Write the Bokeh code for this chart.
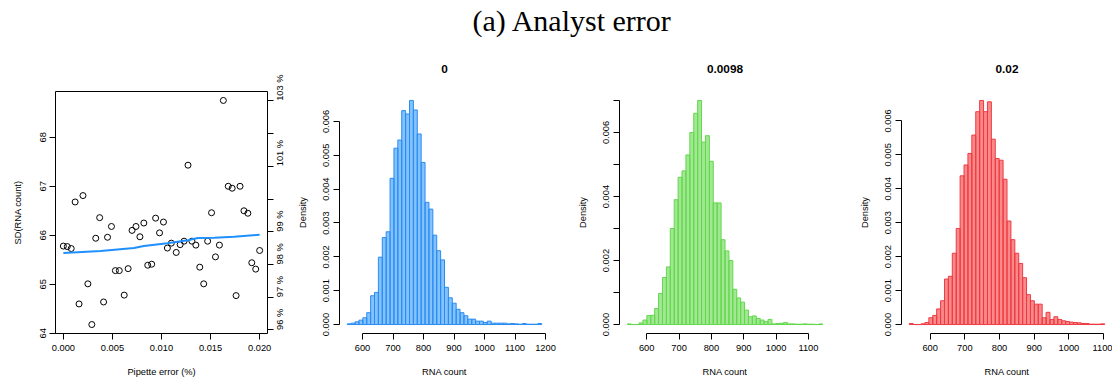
import math
from bokeh.plotting import figure
from bokeh.layouts import row, column
from bokeh.models import Range1d, LinearAxis, FixedTicker, PrintfTickFormatter
from bokeh.core.properties import value
from bokeh.embed import file_html
from bokeh.resources import INLINE

# ---------------- data ----------------
main_title = "(a) Analyst error"

pipette_error = [0.0000, 0.0004, 0.0008, 0.0012, 0.0016, 0.0020, 0.0025, 0.0029, 0.0033, 0.0037,
                 0.0041, 0.0045, 0.0049, 0.0053, 0.0057, 0.0062, 0.0066, 0.0070, 0.0074, 0.0078,
                 0.0082, 0.0086, 0.0090, 0.0094, 0.0098, 0.0102, 0.0106, 0.0110, 0.0115, 0.0119,
                 0.0123, 0.0127, 0.0131, 0.0135, 0.0139, 0.0143, 0.0147, 0.0151, 0.0155, 0.0159,
                 0.0163, 0.0168, 0.0172, 0.0176, 0.0180, 0.0184, 0.0188, 0.0192, 0.0196, 0.0200]
sd_rna = [65.78, 65.77, 65.73, 66.68, 64.60, 66.81, 65.01, 64.18, 65.94, 66.36,
          64.64, 65.96, 66.18, 65.28, 65.28, 64.78, 65.32, 66.10, 66.18, 65.97,
          66.25, 65.39, 65.41, 66.35, 66.05, 66.27, 65.74, 65.84, 65.65, 65.81,
          65.88, 67.43, 65.88, 65.80, 65.35, 65.01, 65.88, 66.46, 65.56, 65.80,
          68.75, 67.00, 66.96, 64.77, 67.00, 66.50, 66.45, 65.44, 65.31, 65.69]
loess_error = [0.0000, 0.0038, 0.0072, 0.0082, 0.0106, 0.0127, 0.0137, 0.0154, 0.0174, 0.0200]
loess_sd = [65.64, 65.68, 65.74, 65.78, 65.84, 65.90, 65.945, 65.95, 65.97, 66.01]
reference_sd = 66.74  # SD corresponding to 100 %

sd_ticks = [64, 65, 66, 67, 68]
pct_ticks_labelled = [96, 97, 98, 99, 101, 103]
pct_ticks_unlabelled = [100, 102]
error_ticks = [0.0, 0.005, 0.010, 0.015, 0.020]

hist_titles = ["0", "0.0098", "0.02"]

blue_start, blue_width = 550.0, 12.75
blue_density = [0.00002, 0.00004, 0.00008, 0.00013, 0.00020, 0.00035, 0.00085, 0.00095, 0.00199, 0.00257,
                0.00274, 0.00432, 0.00521, 0.00545, 0.00632, 0.00622, 0.00662, 0.00634, 0.00563, 0.00479,
                0.00361, 0.00341, 0.00264, 0.00218, 0.00191, 0.00110, 0.00079, 0.00063, 0.00045, 0.00035,
                0.00026, 0.00016, 0.00016, 0.00010, 0.00010, 0.00006, 0.00010, 0.00004, 0.00004, 0.00004,
                0.00004, 0.00002, 0.00003, 0.00002, 0.00001, 0.00003, 0.00001, 0.00001, 0.00001, 0.00003]

green_start, green_width = 540.0, 12.08
green_density = [0.00002, 0.00000, 0.00000, 0.00005, 0.00014, 0.00028, 0.00029, 0.00050, 0.00097, 0.00147,
                 0.00180, 0.00300, 0.00390, 0.00460, 0.00480, 0.00530, 0.00600, 0.00660, 0.00700, 0.00570,
                 0.00590, 0.00510, 0.00380, 0.00380, 0.00265, 0.00230, 0.00200, 0.00110, 0.00083, 0.00070,
                 0.00045, 0.00024, 0.00027, 0.00019, 0.00014, 0.00009, 0.00016, 0.00002, 0.00003, 0.00004,
                 0.00006, 0.00002, 0.00002, 0.00001, 0.00001, 0.00002, 0.00001, 0.00001, 0.00000, 0.00002]

red_start, red_width = 540.0, 11.26
red_density = [0.00003, 0.00000, 0.00000, 0.00002, 0.00006, 0.00020, 0.00027, 0.00046, 0.00070, 0.00134,
               0.00142, 0.00210, 0.00283, 0.00438, 0.00470, 0.00504, 0.00558, 0.00627, 0.00660, 0.00627,
               0.00656, 0.00546, 0.00489, 0.00484, 0.00428, 0.00305, 0.00250, 0.00210, 0.00180, 0.00138,
               0.00088, 0.00070, 0.00060, 0.00060, 0.00020, 0.00036, 0.00015, 0.00023, 0.00015, 0.00011,
               0.00009, 0.00007, 0.00006, 0.00005, 0.00003, 0.00003, 0.00001, 0.00001, 0.00001, 0.00002]

count_ticks_blue = [600, 700, 800, 900, 1000, 1100, 1200]
count_ticks_other = [600, 700, 800, 900, 1000, 1100]
density_ticks = [0.000, 0.001, 0.002, 0.003, 0.004, 0.005, 0.006]
density_ticks_green = [0.000, 0.002, 0.004, 0.006]
density_minor_green = [0.001, 0.003, 0.005, 0.007]

# ---------------- style ----------------
SANS = "Liberation Sans"
TICK_FS = "9.3px"
LAB_FS = "9.3px"
TITLE_H = 38
PANEL_H = 383 - TITLE_H
TOP_B = 91 - TITLE_H
BOT_B = 50


def r_range(lo, hi):
    d = (hi - lo) * 0.04
    return Range1d(lo - d, hi + d)


def style_axis(ax, ticks, bounds, minor=None, standoff=5, label_standoff=13, orient=None):
    ax.ticker = FixedTicker(ticks=ticks, minor_ticks=minor or [])
    ax.bounds = bounds
    ax.axis_line_color = "black"
    ax.axis_line_width = 1
    ax.major_tick_line_color = "black"
    ax.major_tick_out = 6
    ax.major_tick_in = 0
    ax.minor_tick_line_color = "black" if minor else None
    ax.minor_tick_out = 6
    ax.minor_tick_in = 0
    ax.major_label_text_font = SANS
    ax.major_label_text_font_size = TICK_FS
    ax.major_label_text_color = "black"
    ax.major_label_standoff = standoff
    ax.axis_label_text_font = SANS
    ax.axis_label_text_font_size = LAB_FS
    ax.axis_label_text_font_style = "normal"
    ax.axis_label_text_color = "black"
    ax.axis_label_standoff = label_standoff
    if orient is not None:
        ax.major_label_orientation = orient


# ---------------- title ----------------
tfig = figure(width=1112, height=TITLE_H, x_range=Range1d(0, 1112), y_range=Range1d(0, TITLE_H),
              min_border=0, toolbar_location=None, output_backend="svg")
tfig.axis.visible = False
tfig.grid.visible = False
tfig.outline_line_color = None
tfig.text(x=[572], y=[TITLE_H - 19.5], text=[main_title], text_font=value("Liberation Serif"),
          text_font_size="30px", text_align="center", text_baseline="alphabetic", text_color="black")

# ---------------- scatter panel ----------------
sy = r_range(min(sd_rna), max(sd_rna))
sp = figure(width=294, height=PANEL_H, x_range=r_range(min(pipette_error), max(pipette_error)),
            y_range=sy, min_border_left=55, min_border_right=27, min_border_top=TOP_B,
            min_border_bottom=BOT_B, toolbar_location=None, output_backend="svg")
sp.grid.visible = False
sp.outline_line_color = "black"
sp.outline_line_width = 1
sp.extra_y_ranges = {"pct": Range1d(sy.start / reference_sd * 100, sy.end / reference_sd * 100)}
sp.scatter(pipette_error, sd_rna, size=6, marker="circle", fill_color=None,
           line_color="black", line_width=1)
sp.line(loess_error, loess_sd, line_color="#1E90FF", line_width=2)
style_axis(sp.xaxis[0], error_ticks, (0, 0.02), standoff=5, label_standoff=13)
sp.xaxis[0].formatter = PrintfTickFormatter(format="%.3f")
sp.xaxis[0].axis_label = "Pipette error (%)"
style_axis(sp.yaxis[0], sd_ticks, (64, 68), standoff=3, label_standoff=15, orient="vertical")
sp.yaxis[0].axis_label = "SD(RNA count)"
rax = LinearAxis(y_range_name="pct")
style_axis(rax, pct_ticks_labelled, (96, 103), minor=pct_ticks_unlabelled, standoff=7,
           orient=math.pi / 2)
rax.formatter = PrintfTickFormatter(format="%d %%")
sp.add_layout(rax, "right")


# ---------------- histograms ----------------
def hist(title, start, width, dens, fill, line, xticks, yticks, yminor, ybound, fig_w, left_b, right_b):
    n = len(dens)
    lefts = [start + i * width for i in range(n)]
    rights = [start + (i + 1) * width for i in range(n)]
    p = figure(width=fig_w, height=PANEL_H, x_range=r_range(start, start + n * width),
               y_range=r_range(0, max(dens)), min_border_left=left_b, min_border_right=right_b,
               min_border_top=TOP_B, min_border_bottom=BOT_B, toolbar_location=None,
               output_backend="svg", title=title)
    p.grid.visible = False
    p.outline_line_color = None
    p.title.align = "center"
    p.title.text_font = SANS
    p.title.text_font_size = "11.8px"
    p.title.text_font_style = "bold"
    p.title.text_color = "black"
    p.title.standoff = 37
    p.quad(left=lefts, right=rights, bottom=0, top=dens, fill_color=fill, fill_alpha=0.55,
           line_color=line, line_width=1)
    style_axis(p.xaxis[0], xticks, (xticks[0], xticks[-1]), standoff=5, label_standoff=13)
    p.xaxis[0].axis_label = "RNA count"
    style_axis(p.yaxis[0], yticks, ybound, minor=yminor, standoff=4, label_standoff=13,
               orient="vertical")
    p.yaxis[0].formatter = PrintfTickFormatter(format="%.3f")
    p.yaxis[0].axis_label = "Density"
    return p


h1 = hist(hist_titles[0], blue_start, blue_width, blue_density, "#1E90FF", "#2A8CF0",
          count_ticks_blue, density_ticks, None, (0, 0.006), 278, 44, 23)
h2 = hist(hist_titles[1], green_start, green_width, green_density, "#55D63C", "#62D84C",
          count_ticks_other, density_ticks_green, density_minor_green, (0, 0.007), 281, 47, 23)
h3 = hist(hist_titles[2], red_start, red_width, red_density, "#F52A2A", "#EE3A44",
          count_ticks_other, density_ticks, None, (0, 0.006), 259, 48, 0)

layout = column(tfig, row(sp, h1, h2, h3, spacing=0), spacing=0)
open("out.html", "w").write(file_html(layout, INLINE))
